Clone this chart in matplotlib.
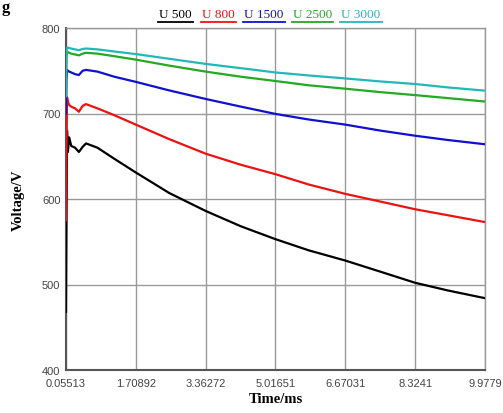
import matplotlib
matplotlib.use("Agg")
import matplotlib.pyplot as plt
from matplotlib.lines import Line2D

# ---- data ----
time_ms = [0.05513, 0.065, 0.08, 0.10, 0.13, 0.18, 0.27, 0.36, 0.45, 0.53, 0.8, 1.2,
           1.709, 2.5, 3.363, 4.2, 5.017, 5.8, 6.670, 7.5, 8.324, 9.1, 9.978]
u500 = [468, 560, 680, 655, 672, 662, 660, 655, 661, 665, 660, 647,
        631, 607, 586, 568, 553, 540, 528, 515, 502, 493, 484]
u800 = [575, 650, 719, 714, 710, 708, 706, 702, 709, 711, 706, 698,
        687, 670, 653, 640, 629, 617, 606, 597, 588, 581, 573]
u1500 = [700, 740, 751, 750, 749, 748, 746, 745, 750, 751, 749, 743,
         737, 727, 717, 708, 699.5, 693, 687, 680, 674, 669, 664]
u2500 = [740, 765, 772, 772, 771, 770, 769, 768, 770, 771, 770, 767,
         763, 756, 749, 743, 738, 733, 729, 725, 721.5, 718, 714]
u3000 = [720, 770, 777, 777, 776.5, 776, 775, 774, 775.5, 776, 775, 772.5,
         769.5, 764, 758, 753, 748, 744.5, 741, 737.5, 734.5, 730.5, 726.7]

series_names = ["U_500", "U_800", "U_1500", "U_2500", "U_3000"]
series_vals = [u500, u800, u1500, u2500, u3000]
series_colors = ["#000000", "#ee1111", "#1010d0", "#22aa22", "#22b8b8"]

xticks = [0.05513, 1.70892, 3.36272, 5.01651, 6.67031, 8.3241, 9.9779]
xtick_labels = ["0.05513", "1.70892", "3.36272", "5.01651", "6.67031", "8.3241", "9.9779"]
yticks = [400, 500, 600, 700, 800]

# ---- figure ----
fig = plt.figure(figsize=(5.03, 4.14), dpi=100)
ax = fig.add_axes([66 / 503, 1 - 371 / 414, 419 / 503, 342 / 414])

for name, vals, col in zip(series_names, series_vals, series_colors):
    ax.plot(time_ms, vals, color=col, lw=1.6, zorder=3)

ax.set_xlim(xticks[0], xticks[-1])
ax.set_ylim(400, 800)
ax.set_xticks(xticks)
ax.set_xticklabels(xtick_labels)
ax.set_yticks(yticks)
ax.grid(True, color="#999999", lw=1.0)
ax.tick_params(length=0, labelsize=8, labelcolor="#444444")
ax.tick_params(axis="x", pad=6)
ax.tick_params(axis="y", pad=4)
for lab in ax.get_xticklabels() + ax.get_yticklabels():
    lab.set_family("Liberation Sans")
for s in ["top", "right"]:
    ax.spines[s].set_color("#999999")
    ax.spines[s].set_linewidth(1.0)
for s in ["left", "bottom"]:
    ax.spines[s].set_color("#555555")
    ax.spines[s].set_linewidth(1.5)

ax.set_xlabel("Time/ms", family="Liberation Serif", fontweight="bold", fontsize=10.5, labelpad=3)
ax.set_ylabel("Voltage/V", family="Liberation Serif", fontweight="bold", fontsize=10.5, labelpad=12)

# caption letter at the top-left corner
fig.text(2 / 503, 1.0, "g", family="Liberation Serif", fontweight="bold",
         fontsize=12, va="top", ha="left")

# underlined coloured legend at the top
centers = [175.5, 218.5, 264, 312.5, 361]
texts = []
for name, col, cx in zip(series_names, series_colors, centers):
    label = name.replace("_", " ")
    t = fig.text(cx / 503, 1 - 15 / 414, label, color=col, family="Liberation Serif",
                 fontsize=9.5, ha="center", va="center")
    texts.append((t, col))

fig.canvas.draw()
renderer = fig.canvas.get_renderer()
inv = fig.transFigure.inverted()
for t, col in texts:
    bb = t.get_window_extent(renderer)
    (x0, _), (x1, _) = inv.transform([(bb.x0 - 1, 0), (bb.x1 + 1, 0)])
    y = 1 - 22.5 / 414
    fig.add_artist(Line2D([x0, x1], [y, y], color=col, lw=1.3, transform=fig.transFigure))

fig.savefig("out.png", dpi=100)
